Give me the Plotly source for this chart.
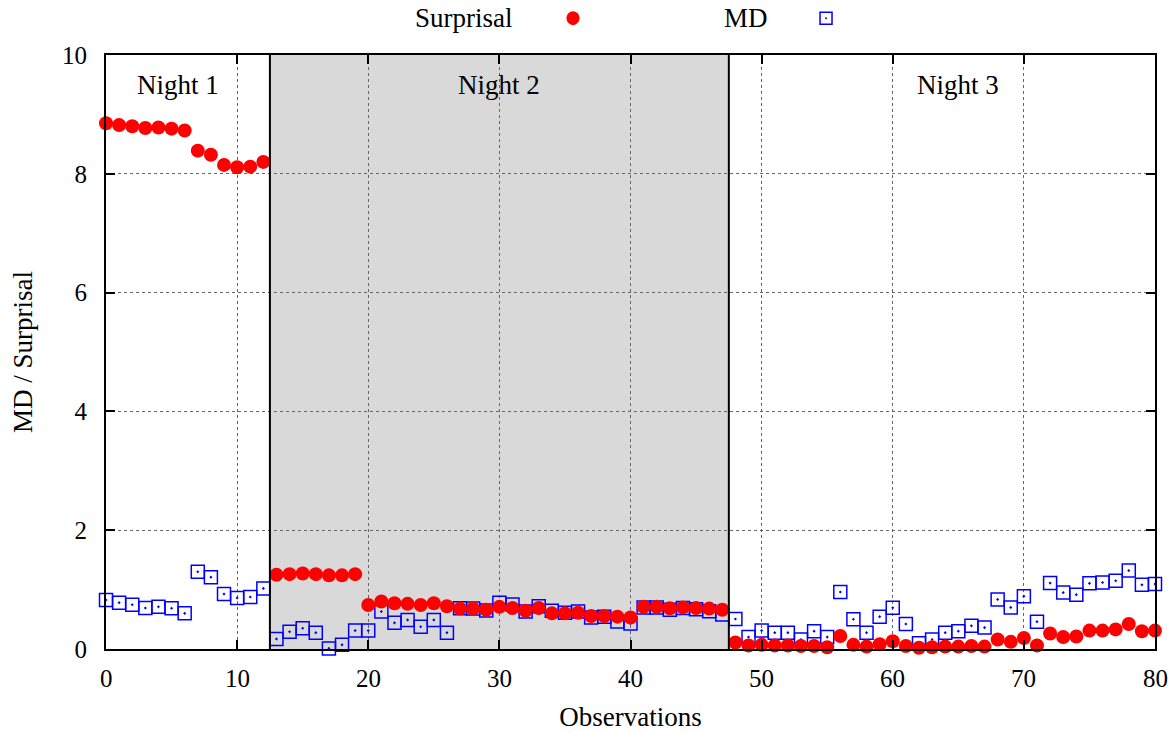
import plotly.graph_objects as go

obs = list(range(81))

surprisal = [8.85, 8.82, 8.80, 8.77, 8.78, 8.76, 8.73, 8.39, 8.32, 8.15, 8.11, 8.12, 8.20,
             1.25, 1.26, 1.27, 1.26, 1.24, 1.24, 1.26,
             0.74, 0.80, 0.77, 0.76, 0.74, 0.77, 0.72, 0.68, 0.68, 0.66, 0.71, 0.69, 0.645, 0.69,
             0.60, 0.60, 0.61, 0.555, 0.555, 0.545, 0.53, 0.71, 0.71, 0.685, 0.70, 0.69, 0.68, 0.66,
             0.11, 0.06, 0.07, 0.06, 0.06, 0.05, 0.05, 0.03, 0.22, 0.07, 0.04, 0.08, 0.13, 0.05,
             0.02, 0.03, 0.04, 0.04, 0.05, 0.04, 0.16, 0.12, 0.185, 0.06, 0.26, 0.20, 0.21, 0.31,
             0.31, 0.33, 0.42, 0.30, 0.31]

md = [0.825, 0.78, 0.745, 0.69, 0.71, 0.685, 0.60, 1.30, 1.21, 0.925, 0.86, 0.875, 1.02,
      0.17, 0.29, 0.35, 0.275, 0.01, 0.07, 0.31,
      0.31, 0.63, 0.44, 0.49, 0.375, 0.49, 0.275, 0.685, 0.68, 0.65, 0.78, 0.75, 0.63, 0.72,
      0.645, 0.61, 0.63, 0.53, 0.545, 0.465, 0.43, 0.70, 0.70, 0.66, 0.69, 0.67, 0.635, 0.58,
      0.505, 0.20, 0.31, 0.275, 0.275, 0.16, 0.30, 0.20, 0.96, 0.50, 0.275, 0.545, 0.695, 0.42,
      0.095, 0.16, 0.275, 0.30, 0.39, 0.36, 0.835, 0.70, 0.89, 0.46, 1.11, 0.95, 0.915, 1.105,
      1.12, 1.15, 1.32, 1.08, 1.095]

night_labels = ["Night 1", "Night 2", "Night 3"]
night_label_x = [5.5, 30, 65]
night_bounds = [12.5, 47.5]

x_ticks = [0, 10, 20, 30, 40, 50, 60, 70, 80]
y_ticks = [0, 2, 4, 6, 8, 10]

FONT = "Liberation Serif"

fig = go.Figure()

fig.add_trace(go.Scatter(
    x=obs, y=md, mode="markers", name="MD",
    marker=dict(symbol="square-open-dot", size=13, color="#0000ff", line=dict(width=1.5, color="#0000ff")),
    showlegend=False, cliponaxis=False))

fig.add_trace(go.Scatter(
    x=obs, y=surprisal, mode="markers", name="Surprisal",
    marker=dict(symbol="circle", size=14, color="#ff0000", line=dict(width=0)),
    showlegend=False, cliponaxis=False))

# shaded Night 2 region
fig.add_shape(type="rect", xref="x", yref="y", x0=night_bounds[0], x1=night_bounds[1], y0=0, y1=10,
              fillcolor="#d9d9d9", line=dict(width=0), layer="below")
for b in night_bounds:
    fig.add_shape(type="line", xref="x", yref="y", x0=b, x1=b, y0=0, y1=10,
                  line=dict(color="black", width=2), layer="above")

for lbl, lx in zip(night_labels, night_label_x):
    fig.add_annotation(x=lx, y=9.5, xref="x", yref="y", text=lbl, showarrow=False,
                       font=dict(family=FONT, size=27, color="black"))

# x tick labels, placed at the tick values slightly further from the axis (gnuplot spacing)
for t in x_ticks:
    fig.add_annotation(x=t, y=0, xref="x", yref="paper", text=str(t), showarrow=False,
                       yanchor="middle", yshift=-29, font=dict(family=FONT, size=25, color="black"))

# legend (gnuplot style: text then key)
fig.add_annotation(x=0.390, y=1.062, xref="paper", yref="paper", text="Surprisal", showarrow=False,
                   xanchor="right", yanchor="middle", font=dict(family=FONT, size=27, color="black"))
fig.add_annotation(x=0.633, y=1.062, xref="paper", yref="paper", text="MD", showarrow=False,
                   xanchor="right", yanchor="middle", font=dict(family=FONT, size=27, color="black"))
fig.add_shape(type="circle", xref="paper", yref="paper", xsizemode="pixel", ysizemode="pixel",
              xanchor=0.4452, yanchor=1.062, x0=-6.5, x1=6.5, y0=-7, y1=7,
              fillcolor="#ff0000", line=dict(width=0))
fig.add_shape(type="rect", xref="paper", yref="paper", xsizemode="pixel", ysizemode="pixel",
              xanchor=0.6864, yanchor=1.062, x0=-6, x1=6, y0=-6, y1=6,
              fillcolor="rgba(0,0,0,0)", line=dict(width=1.5, color="#0000ff"))
fig.add_shape(type="circle", xref="paper", yref="paper", xsizemode="pixel", ysizemode="pixel",
              xanchor=0.6864, yanchor=1.062, x0=-1, x1=1, y0=-1, y1=1,
              fillcolor="#0000ff", line=dict(width=0))

axis_common = dict(
    showline=True, linecolor="black", linewidth=2, mirror="ticks",
    ticks="inside", ticklen=9, tickwidth=1.5, tickcolor="black",
    showgrid=True, gridcolor="#666666", griddash="dot", gridwidth=1,
    zeroline=False, automargin=False,
    tickfont=dict(family=FONT, size=25, color="black"),
)

fig.update_xaxes(range=[0, 80], tickvals=x_ticks, showticklabels=False,
                 title=dict(text="Observations", font=dict(family=FONT, size=27, color="black"), standoff=57),
                 **axis_common)
fig.update_yaxes(range=[0, 10], tickvals=y_ticks, ticktext=[str(v) for v in y_ticks],
                 title=dict(text="MD / Surprisal", font=dict(family=FONT, size=27, color="black"), standoff=22),
                 ticklabelstandoff=12, **axis_common)

fig.update_layout(
    width=1172, height=733,
    margin=dict(l=106, r=17, t=55, b=84),
    plot_bgcolor="white", paper_bgcolor="white",
    showlegend=False,
)

fig.write_html("out.html")
